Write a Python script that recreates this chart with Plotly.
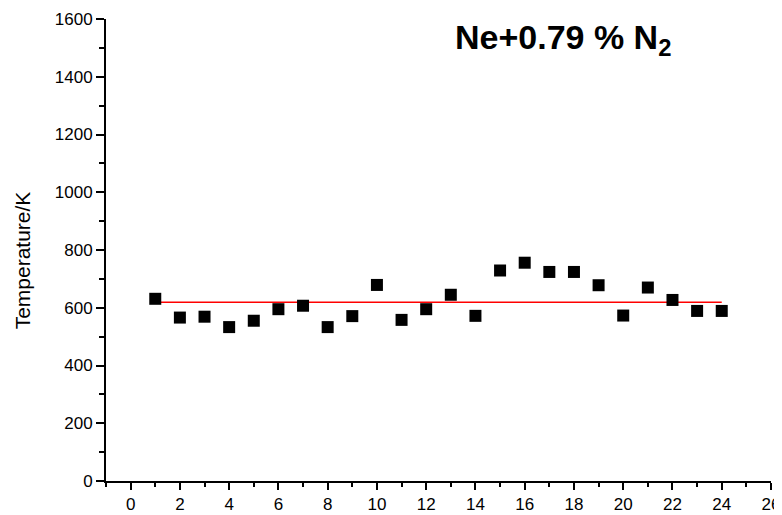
import plotly.graph_objects as go

run_index = list(range(1, 25))
temperature = [631, 566, 569, 533, 555, 595, 607, 533, 571, 679, 558, 595,
               645, 572, 729, 756, 724, 724, 678, 573, 670, 627, 589, 589]
mean_temperature = 619
x_ticks = list(range(0, 27, 2))
y_ticks = list(range(0, 1601, 200))

fig = go.Figure()
fig.add_trace(go.Scatter(
    x=[run_index[0], run_index[-1]], y=[mean_temperature, mean_temperature],
    mode="lines", line=dict(color="#ff0000", width=1.5), showlegend=False))
fig.add_trace(go.Scatter(
    x=run_index, y=temperature, mode="markers",
    marker=dict(symbol="square", size=12, color="black"), showlegend=False))

font_family = "Liberation Sans, Arial, sans-serif"
fig.update_layout(
    width=774, height=507,
    margin=dict(l=98, r=11, t=11, b=34),
    plot_bgcolor="white", paper_bgcolor="white",
    font=dict(family=font_family, size=17, color="black"),
    xaxis=dict(range=[-1, 26], tickvals=x_ticks, showgrid=False, zeroline=False,
               showline=True, linecolor="black", linewidth=2, automargin=False,
               ticks="outside", ticklen=7, tickwidth=2, tickcolor="black",
               ticklabeloverflow="allow",
               minor=dict(dtick=1, ticks="outside", ticklen=4, tickwidth=2, tickcolor="black", showgrid=False),
               tickfont=dict(size=17)),
    yaxis=dict(range=[0, 1600], tickvals=y_ticks, showgrid=False, zeroline=False,
               showline=True, linecolor="black", linewidth=2, automargin=False,
               ticks="outside", ticklen=8, tickwidth=2, tickcolor="black",
               ticklabeloverflow="allow",
               minor=dict(dtick=100, ticks="outside", ticklen=5, tickwidth=2, tickcolor="black", showgrid=False),
               tickfont=dict(size=17)),
)
fig.add_annotation(
    xref="paper", yref="paper", x=-0.126, y=0.478, xanchor="center", yanchor="middle",
    text="Temperature/K", textangle=-90, showarrow=False,
    font=dict(size=21, family=font_family, color="black"))
fig.add_annotation(
    xref="paper", yref="paper", x=0.522, y=0.955, xanchor="left", yanchor="middle",
    text="<b>Ne+0.79 % N<sub>2</sub></b>", showarrow=False,
    font=dict(size=34, family=font_family, color="black"))

fig.write_html("out.html")
